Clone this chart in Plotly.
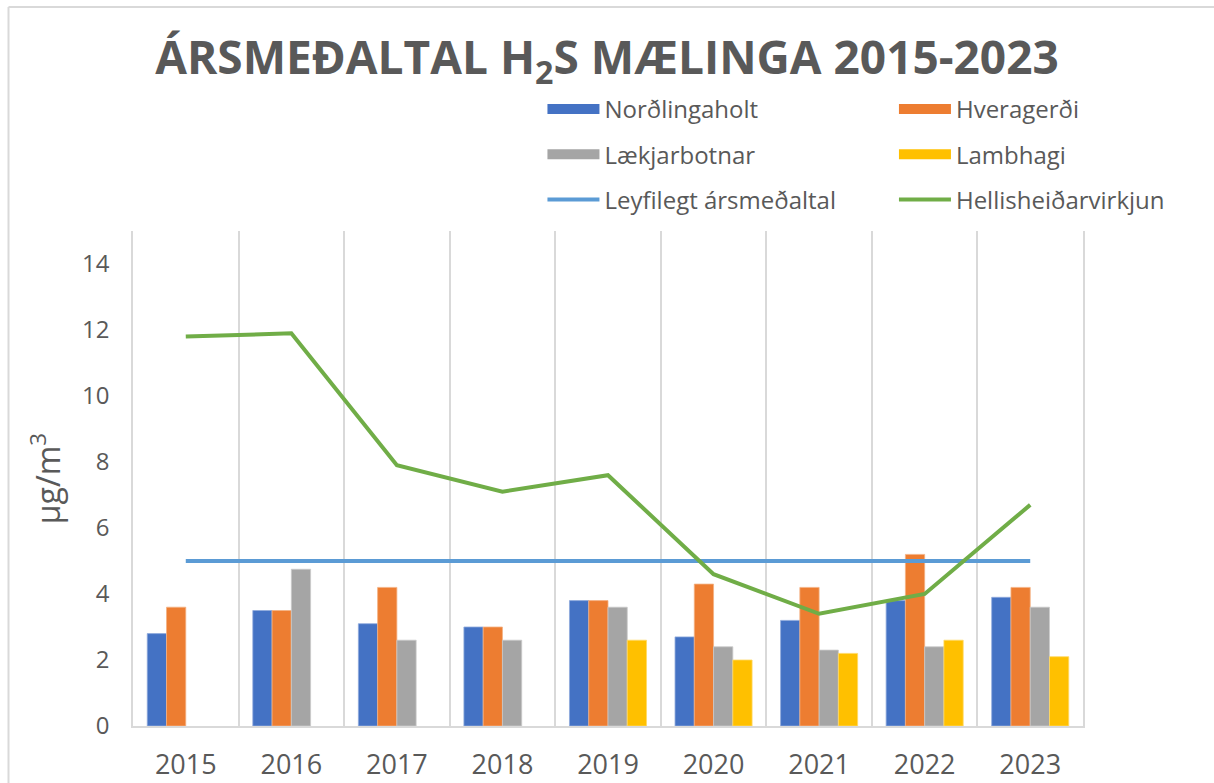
import plotly.graph_objects as go

# ----------------------- data ------------------
years = ['2015', '2016', '2017', '2018', '2019', '2020', '2021', '2022', '2023']

nordlingaholt = [2.8, 3.5, 3.1, 3.0, 3.8, 2.7, 3.2, 3.8, 3.9]
hveragerdi = [3.6, 3.5, 4.2, 3.0, 3.8, 4.3, 4.2, 5.2, 4.2]
laekjarbotnar = [None, 4.75, 2.6, 2.6, 3.6, 2.4, 2.3, 2.4, 3.6]
lambhagi = [None, None, None, None, 2.6, 2.0, 2.2, 2.6, 2.1]
leyfilegt = [5, 5, 5, 5, 5, 5, 5, 5, 5]
hellisheidi = [11.8, 11.9, 7.9, 7.1, 7.6, 4.6, 3.4, 4.0, 6.7]

font_color = '#595959'
grid_color = '#D9D9D9'
base_font = 'Open Sans'

# ----------------------- figure ------------------
fig = go.Figure()

bars = [
    ('Norðlingaholt', nordlingaholt, '#4472C4', '#8FAADC', 'legend'),
    ('Hveragerði', hveragerdi, '#ED7D31', '#F4B183', 'legend2'),
    ('Lækjarbotnar', laekjarbotnar, '#A5A5A5', '#C9C9C9', 'legend'),
    ('Lambhagi', lambhagi, '#FFC000', '#FFD966', 'legend2'),
]
for name, vals, col, edge, leg in bars:
    fig.add_trace(go.Bar(x=years, y=vals, name=name, marker_color=col,
                         marker_line=dict(color=edge, width=0.8), showlegend=False, legendgroup=name))

fig.add_trace(go.Scatter(x=years, y=leyfilegt, name='Leyfilegt ársmeðaltal', mode='lines',
                         line=dict(color='#5B9BD5', width=4), showlegend=False))
fig.add_trace(go.Scatter(x=years, y=hellisheidi, name='Hellisheiðarvirkjun', mode='lines',
                         line=dict(color='#70AD47', width=4), showlegend=False))

# legend entries (wide rectangle swatches like the original)
for name, vals, col, edge, leg in bars:
    fig.add_trace(go.Scatter(x=[None], y=[None], name=name, mode='lines', legendgroup=name,
                             line=dict(color=col, width=16), legend=leg))
fig.add_trace(go.Scatter(x=[None], y=[None], name='Leyfilegt ársmeðaltal', mode='lines', legendgroup='e',
                         line=dict(color='#5B9BD5', width=4), legend='legend'))
fig.add_trace(go.Scatter(x=[None], y=[None], name='Hellisheiðarvirkjun', mode='lines', legendgroup='f',
                         line=dict(color='#70AD47', width=4), legend='legend2'))

legend_style = dict(font=dict(family=base_font, size=24, color=font_color),
                    bgcolor='rgba(0,0,0,0)', traceorder='grouped', tracegroupgap=11,
                    yanchor='top', xanchor='left', itemwidth=52)

fig.update_layout(
    width=1214, height=783,
    paper_bgcolor='white', plot_bgcolor='white',
    margin=dict(l=133, r=131, t=231, b=57),
    font=dict(family=base_font, color=font_color),
    title=dict(text='<b>ÁRSMEÐALTAL H<sub>2</sub>S MÆLINGA 2015-2023</b>',
               x=0.5, xanchor='center', y=0.926, yanchor='middle',
               font=dict(family=base_font, size=46, color=font_color)),
    barmode='group', bargap=0.27, bargroupgap=0,
    showlegend=True,
    legend=dict(x=0.431, y=1.291, **legend_style),
    legend2=dict(x=0.801, y=1.291, **legend_style),
    xaxis=dict(type='category', tickson='boundaries', showgrid=True, gridcolor=grid_color, gridwidth=1.5,
               showline=True, linecolor=grid_color, linewidth=1.5, ticks='', automargin=False,
               tickfont=dict(family=base_font, size=27, color=font_color), ticklabelstandoff=14),
    yaxis=dict(range=[0, 15], tick0=0, dtick=2, showgrid=False, zeroline=False,
               showline=True, mirror=True, linecolor=grid_color, linewidth=1.5, automargin=False,
               tickfont=dict(family=base_font, size=24, color=font_color), ticklabelstandoff=17,
               title=dict(text='µg/m<sup>3</sup>', font=dict(family=base_font, size=32, color=font_color),
                          standoff=12)),
)

# chart frame (top and left edges)
fig.add_shape(type='line', xref='paper', yref='paper',
              x0=(8.5 - 133) / 950, x1=(1214 - 133) / 950, y0=(726 - 7) / 495, y1=(726 - 7) / 495,
              line=dict(color=grid_color, width=2))
fig.add_shape(type='line', xref='paper', yref='paper',
              x0=(8.5 - 133) / 950, x1=(8.5 - 133) / 950, y0=(726 - 7) / 495, y1=(726 - 790) / 495,
              line=dict(color=grid_color, width=2))

# drop the default page margin so the figure sits at the window's corner
fig.write_html('out.html', config={'displayModeBar': False},
               post_script="document.body.style.margin='0';")
